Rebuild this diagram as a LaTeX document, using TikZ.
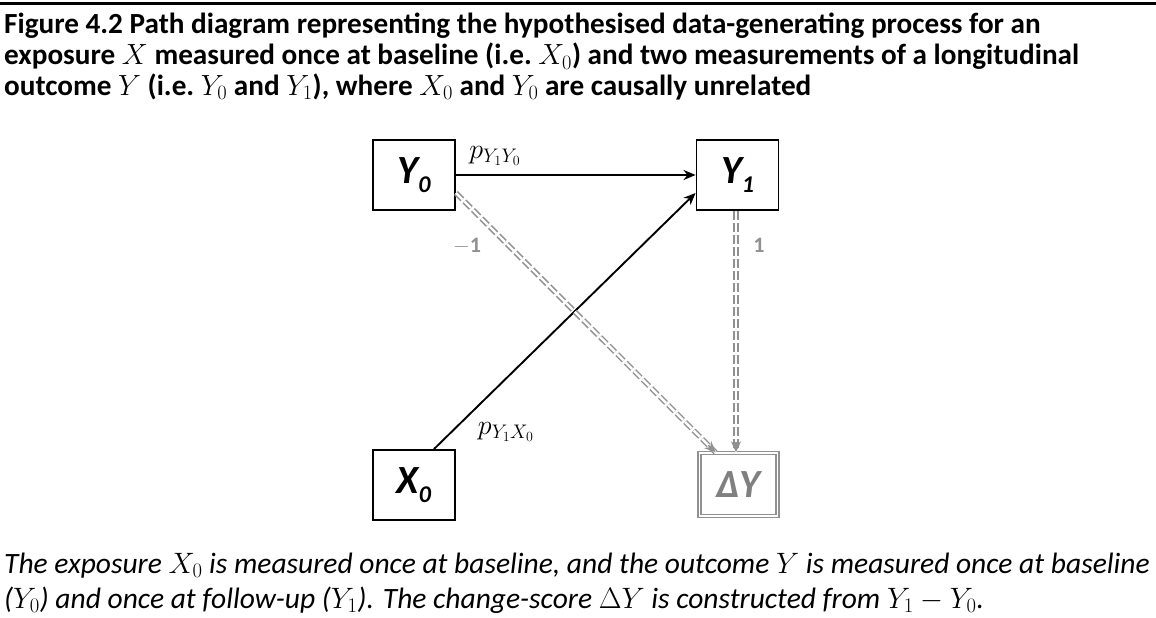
\RequirePackage{fix-cm}
\documentclass[tikz,border=0pt]{standalone}
\usepackage{fontspec}
\setmainfont{Carlito}
\usetikzlibrary{arrows.meta,calc}
\definecolor{lgray}{RGB}{145,145,145}
\definecolor{dgray}{RGB}{128,128,128}
\newcommand{\lowsub}[1]{\raisebox{-9pt}{\fontsize{24}{24}\selectfont #1}}
\tikzset{
  var/.style={draw, line width=1.9pt, minimum width=82pt, minimum height=70pt, inner sep=0pt,
    font=\fontsize{40}{40}\selectfont\bfseries\itshape},
  derived/.style={var, draw=lgray, line width=1.3pt, double, double distance=1.8pt, minimum width=78pt, minimum height=63pt, text=dgray},
  causal/.style={line width=1.9pt, -{Stealth[length=12pt,width=10pt]}},
  change/.style={draw=lgray, dash pattern=on 9pt off 3pt, double, double distance=2.4pt, line width=1.5pt},
  changetip/.style={draw=lgray, line width=1.5pt, -{Stealth[length=11pt,width=10pt,fill=lgray]}},
  coef/.style={inner sep=0pt, font=\fontsize{28}{28}\selectfont},
  title/.style={anchor=base west, inner sep=0pt, font=\fontsize{29.2}{30}\selectfont\bfseries},
  note/.style={anchor=base west, inner sep=0pt, font=\fontsize{29.5}{30}\selectfont\itshape}
}
\begin{document}
\begin{tikzpicture}[x=1pt,y=-1pt]
\useasboundingbox (0,0) rectangle (1156,618);
\draw[line width=3pt] (0,4) -- (1156,4);
% heading
\node[title] (t1) at (4,34) {Figure 4.2 Path diagram representing the hypothesised data-generating process for an};
\node[title] (t2) at (4,65) {exposure $X$ measured once at baseline (i.e.\ $X_0$) and two measurements of a longitudinal};
\node[title] (t3) at (4,95) {outcome $Y$ (i.e.\ $Y_0$ and $Y_1$), where $X_0$ and $Y_0$ are causally unrelated};
% variables
\node[var] (Y0) at (414,175) {Y\lowsub{0}};
\node[var] (Y1) at (737.5,175) {Y\lowsub{1}};
\node[var] (X0) at (414,485) {X\lowsub{0}};
\node[derived] (dY) at (738.5,484.5) {ΔY};
% paths
\draw[causal] (Y0) -- (Y1);
\draw[causal] ([xshift=20pt]X0.north) -- ([yshift=-18pt]Y1.west);
\coordinate (y0out) at ([yshift=-18pt]Y0.east);
\coordinate (dyin) at ([xshift=-23pt]dY.north);
\coordinate (y1out) at ([xshift=-1.5pt]Y1.south);
\coordinate (dytop) at ([xshift=-2.5pt]dY.north);
\draw[change] (y0out) -- (dyin);
\draw[changetip] ($(dyin)!10pt!(y0out)$) -- (dyin);
\draw[change] (y1out) -- (dytop);
\draw[changetip] ($(dytop)!10pt!(y1out)$) -- (dytop);
% coefficients
\node[coef] (pyy) at (495,156) {$p_{Y_1Y_0}$};
\node[coef] (pyx) at (506,432) {$p_{Y_1X_0}$};
\node[coef, font=\fontsize{22}{22}\selectfont, text=lgray] (m1) at (467,246) {$\mathbf{-1}$};
\node[coef, font=\fontsize{22}{22}\selectfont, text=lgray] (p1) at (759,245) {$\mathbf{1}$};
% note
\node[note] (n1) at (4,573) {The exposure $X_0$ is measured once at baseline, and the outcome $Y$ is measured once at baseline};
\node[note] (n2) at (4,608) {($Y_0$) and once at follow-up ($Y_1$). The change-score $\Delta Y$ is constructed from $Y_1-Y_0$.};
\end{tikzpicture}
\end{document}
